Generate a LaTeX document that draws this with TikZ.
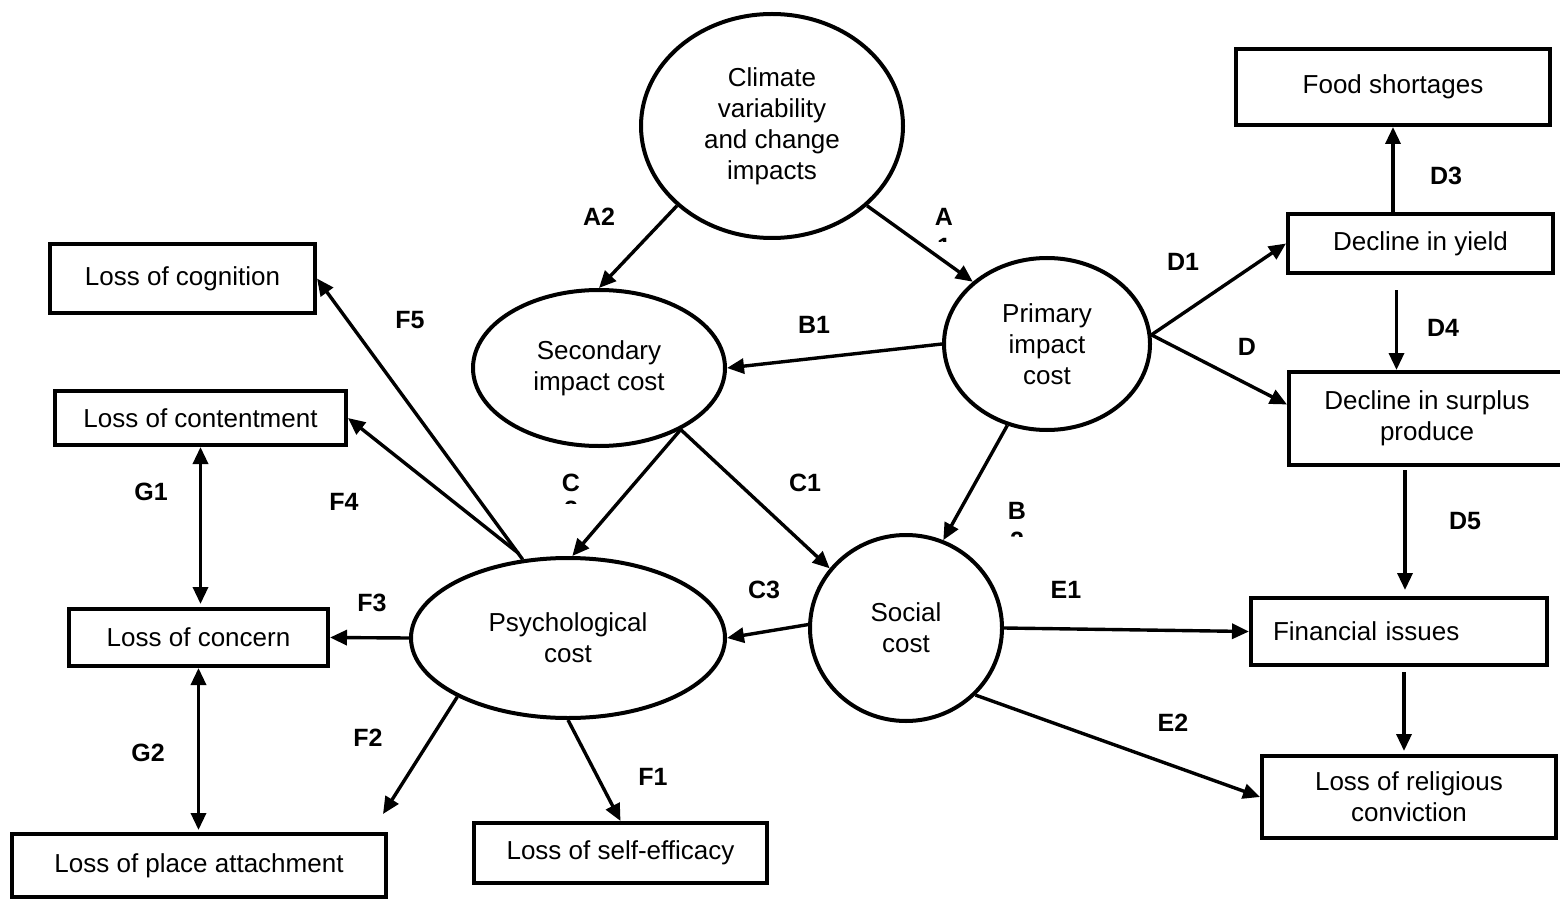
\documentclass[tikz,border=0pt]{standalone}
\usepackage{fontspec}
\setmainfont{Liberation Sans}
\usetikzlibrary{arrows.meta,shapes.geometric,calc}

\begin{document}
\begin{tikzpicture}[x=1pt,y=-1pt,
  every node/.style={font=\fontsize{26}{31}\selectfont},
  cost/.style={ellipse,draw,line width=4pt,inner sep=0pt,align=center},
  box/.style={rectangle,draw,line width=4pt,inner sep=0pt,align=center},
  tag/.style={font=\fontsize{25}{30}\selectfont\bfseries,inner sep=0pt},
  link/.style={line width=3.4pt,-{Triangle[length=17pt,width=15pt]}},
  both/.style={line width=3.4pt,{Triangle[length=17pt,width=15pt]}-{Triangle[length=17pt,width=15pt]}}]

% page area
\fill[white] (0,0) rectangle (1560,901);
\clip (0,0) rectangle (1560,901);

% cost ellipses
\node[cost, minimum width=262pt, minimum height=224pt] (clim) at (772,126) {Climate\\variability\\and change\\impacts};
\node[cost, minimum width=252pt, minimum height=156pt] (sec) at (599,368) {Secondary\\impact cost};
\node[cost, minimum width=206pt, minimum height=172pt] (prim) at (1047,344) {Primary\\impact\\cost};
\node[cost, minimum width=314pt, minimum height=160pt] (psych) at (568,638) {Psychological\\cost};
\node[cost, minimum width=192pt, minimum height=186pt] (soc) at (906,628) {Social\\cost};

% outcome boxes, right side
\node[box, minimum width=314pt, minimum height=76pt] (food) at (1393,87) {Food shortages};
\node[box, minimum width=265pt, minimum height=59pt] (yield) at (1420.5,243.5) {Decline in yield};
\node[box, minimum width=276pt, minimum height=93pt] (surplus) at (1427,418.5) {Decline in surplus\\produce};
\node[box, text width=252pt, align=left, inner xsep=22pt, minimum height=67pt] (fin) at (1399,631.5) {Financial issues};
\node[box, minimum width=294pt, minimum height=82pt] (rel) at (1409,797) {Loss of religious\\conviction};

% outcome boxes, left side
\node[box, minimum width=265pt, minimum height=69pt] (cog) at (182.5,278.5) {Loss of cognition};
\node[box, minimum width=291pt, minimum height=54pt] (cont) at (200.5,418) {Loss of contentment};
\node[box, minimum width=259pt, minimum height=57pt] (conc) at (198.5,637.5) {Loss of concern};
\node[box, minimum width=374pt, minimum height=63pt] (place) at (199,865.5) {Loss of place attachment};
\node[box, minimum width=293pt, minimum height=60pt] (eff) at (620.5,853) {Loss of self-efficacy};

% connectors between the costs
\draw[link] (clim.220) -- (sec.north);
\draw[link] (clim.320) -- (prim.140);
\draw[link] (prim.west) -- (sec.east);
\draw[link] (prim.244) -- (soc.67);
\draw[link] (sec.323) -- (psych.87);
\draw[link] (sec.323) -- (soc.142);
\draw[link] (soc.178) -- (psych.east);

% primary impact chain
\draw[link] (prim.5) -- (yield.west);
\draw[link] (prim.5) -- ($(surplus.west)+(0,-14)$);
\draw[link] (food.south |- yield.north) -- (food.south);
\coordinate (d4top) at ($(yield.south)+(-24,15)$);
\draw[link] (d4top) -- (d4top |- surplus.north);
\coordinate (d5top) at ($(surplus.south)+(-22,3)$);
\draw[link] (d5top) -- ($(d5top |- fin.north)+(0,-6)$);
\coordinate (frtop) at ($(fin.south)+(5,5)$);
\draw[link] (frtop) -- ($(frtop |- rel.north)+(0,-3)$);

% social cost outcomes
\draw[link] (soc.east) -- (fin.west);
\draw[link] (soc.316) -- (rel.west);

% psychological cost outcomes
\coordinate (f2end) at ($(place.north east)+(-5,-18)$);
\draw[link] (psych.south) -- (eff.north);
\draw[link] (psych.208) -- (f2end);
\draw[link] (psych.west) -- (conc.east);
\draw[link] ($(psych.120)+(-4,-6)$) -- (cont.east);
\draw[link] (psych.120) -- (cog.east);
\draw[both] (cont.south) -- ($(cont.south |- conc.north)+(0,-3)$);
\draw[both] (conc.south) -- ($(conc.south |- place.north)+(0,-2)$);

% path labels
\node[tag] (lA2) at (599,217) {A2};
\node[tag] (lA1) at (944,217) {A};
\node[tag] (lB1) at (814,325) {B1};
\node[tag] (lB2) at (1017,511) {B};
\node[tag] (lC2) at (571,483) {C};
\node[tag] (lC1) at (805,483) {C1};
\node[tag] (lC3) at (764,590) {C3};
\node[tag] (lD1) at (1183,262) {D1};
\node[tag] (lD2) at (1247,347) {D};
\node[tag] (lD3) at (1446,176) {D3};
\node[tag] (lD4) at (1443,328) {D4};
\node[tag] (lD5) at (1465,521) {D5};
\node[tag] (lE1) at (1066,590) {E1};
\node[tag] (lE2) at (1173,723) {E2};
\node[tag] (lF1) at (653,777) {F1};
\node[tag] (lF2) at (368,738) {F2};
\node[tag] (lF3) at (372,603) {F3};
\node[tag] (lF4) at (344,502) {F4};
\node[tag] (lF5) at (410,320) {F5};
\node[tag] (lG1) at (151,492) {G1};
\node[tag] (lG2) at (148,753) {G2};

% second lines of the narrow label boxes, cut off by their frames
\begin{scope}
  \clip (928,236) rectangle (960,242);
  \node[tag] (lA1b) at (944,247) {1};
\end{scope}
\begin{scope}
  \clip (555,500) rectangle (587,503);
  \node[tag] (lC2b) at (571,510) {2};
\end{scope}
\begin{scope}
  \clip (1001,530) rectangle (1033,536);
  \node[tag] (lB2b) at (1017,541) {2};
\end{scope}
\end{tikzpicture}
\end{document}
